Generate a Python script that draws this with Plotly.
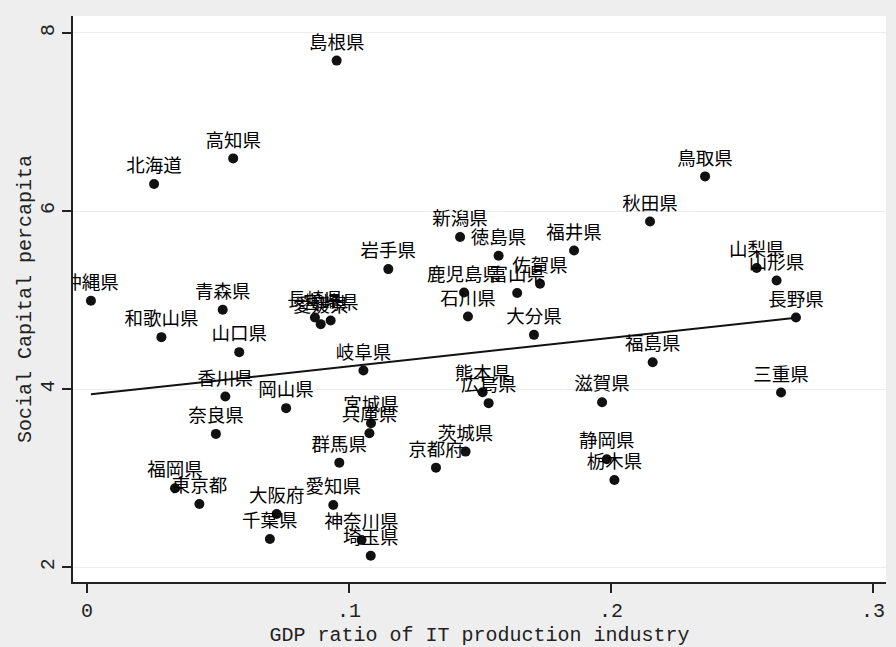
import numpy as np
import plotly.graph_objects as go

# Prefecture data: IT-production share of GDP vs. social capital per capita
prefectures = ["北海道", "青森県", "岩手県", "宮城県", "秋田県", "山形県", "福島県",
               "茨城県", "栃木県", "群馬県", "埼玉県", "千葉県", "東京都", "神奈川県",
               "新潟県", "富山県", "石川県", "福井県", "山梨県", "長野県", "岐阜県",
               "静岡県", "愛知県", "三重県", "滋賀県", "京都府", "大阪府", "兵庫県",
               "奈良県", "和歌山県", "鳥取県", "島根県", "岡山県", "広島県", "山口県",
               "徳島県", "香川県", "愛媛県", "高知県", "福岡県", "佐賀県", "長崎県",
               "熊本県", "大分県", "宮崎県", "鹿児島県", "沖縄県"]

gdp_it_ratio = [0.0256, 0.0518, 0.1150, 0.1084, 0.2149, 0.2632, 0.2159,
                0.1445, 0.2013, 0.0963, 0.1083, 0.0698, 0.0429, 0.1048,
                0.1424, 0.1642, 0.1454, 0.1859, 0.2556, 0.2706, 0.1055,
                0.1984, 0.0940, 0.2649, 0.1966, 0.1332, 0.0724, 0.1078,
                0.0492, 0.0284, 0.2359, 0.0953, 0.0760, 0.1533, 0.0581,
                0.1571, 0.0528, 0.0892, 0.0558, 0.0336, 0.1729, 0.0870,
                0.1510, 0.1706, 0.0930, 0.1439, 0.0015]

social_capital = [6.303, 4.891, 5.348, 3.618, 5.883, 5.220, 4.303,
                  3.299, 2.981, 3.175, 2.130, 2.318, 2.711, 2.307,
                  5.708, 5.079, 4.816, 5.557, 5.360, 4.805, 4.209,
                  3.213, 2.700, 3.962, 3.854, 3.119, 2.599, 3.506,
                  3.498, 4.584, 6.389, 7.689, 3.787, 3.843, 4.416,
                  5.498, 3.917, 4.730, 6.591, 2.888, 5.183, 4.804,
                  3.966, 4.610, 4.771, 5.085, 4.992]

x_ticks = [0, 0.1, 0.2, 0.3]
x_tick_labels = ["0", ".1", ".2", ".3"]
y_ticks = [2, 4, 6, 8]

# Linear fit over the observed range of x
x = np.array(gdp_it_ratio)
y = np.array(social_capital)
slope, intercept = np.polyfit(x, y, 1)
fit_x = np.array([x.min(), x.max()])
fit_y = intercept + slope * fit_x

mono = "Liberation Mono, DejaVu Sans Mono, monospace"
cjk = "Noto Sans CJK JP, Noto Sans CJK SC, sans-serif"

fig = go.Figure()

fig.add_trace(go.Scatter(
    x=fit_x, y=fit_y, mode="lines",
    line=dict(color="#111111", width=2),
    hoverinfo="skip", showlegend=False,
))

fig.add_trace(go.Scatter(
    x=gdp_it_ratio, y=social_capital, mode="markers+text",
    text=prefectures, textposition="top center",
    textfont=dict(family=cjk, size=18.5, color="#000000"),
    marker=dict(color="#111111", size=10),
    showlegend=False,
))

fig.update_layout(
    width=896, height=647,
    margin=dict(l=73, r=10, t=16, b=65),
    paper_bgcolor="#eeeeee",
    plot_bgcolor="#ffffff",
    font=dict(family=mono, color="#222222"),
)

fig.update_xaxes(
    range=[-0.00534, 0.30496], automargin=False,
    tickvals=x_ticks, ticktext=x_tick_labels,
    ticks="outside", ticklen=9, tickwidth=1.5, tickcolor="#222222",
    showline=True, linecolor="#222222", linewidth=1.8,
    showgrid=False, zeroline=False,
    tickfont=dict(family=mono, size=20, color="#222222"),
    title=dict(text="GDP ratio of IT production industry",
               font=dict(family=mono, size=20, color="#222222"), standoff=15),
)

fig.update_yaxes(
    range=[1.835, 8.19], automargin=False,
    tickvals=y_ticks, tickangle=-90,
    ticks="outside", ticklen=9, tickwidth=1.5, tickcolor="#222222",
    showline=True, linecolor="#222222", linewidth=1.8,
    showgrid=True, gridcolor="#ededed", gridwidth=1,
    zeroline=False,
    tickfont=dict(family=mono, size=20, color="#222222"),
    title=dict(text="Social Capital percapita",
               font=dict(family=mono, size=20, color="#222222"), standoff=0),
)

fig.write_html("out.html", config={"displayModeBar": False})
